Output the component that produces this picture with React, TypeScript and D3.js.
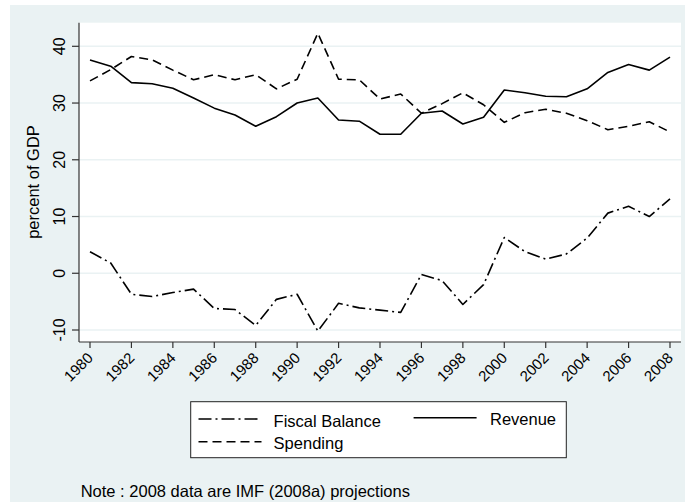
import * as d3 from "d3";

// values (percent of GDP)
const years = [1980, 1981, 1982, 1983, 1984, 1985, 1986, 1987, 1988, 1989, 1990, 1991, 1992, 1993, 1994,
  1995, 1996, 1997, 1998, 1999, 2000, 2001, 2002, 2003, 2004, 2005, 2006, 2007, 2008];
const revenue = [37.6, 36.5, 33.6, 33.4, 32.6, 30.9, 29.1, 27.9, 25.9, 27.6, 30.0, 30.9, 27.0, 26.8, 24.5,
  24.5, 28.2, 28.6, 26.3, 27.5, 32.3, 31.8, 31.2, 31.1, 32.5, 35.4, 36.8, 35.8, 38.1];
const spending = [33.9, 35.9, 38.2, 37.6, 35.8, 34.1, 35.0, 34.1, 35.0, 32.5, 34.2, 42.3, 34.2, 34.1, 30.7,
  31.6, 28.2, 29.9, 31.8, 29.7, 26.6, 28.3, 28.9, 28.2, 26.9, 25.3, 25.9, 26.7, 24.9];
const fiscalBalance = [3.8, 1.8, -3.7, -4.1, -3.4, -2.8, -6.2, -6.4, -9.2, -4.6, -3.7, -10.2, -5.3, -6.1, -6.5,
  -6.9, -0.2, -1.3, -5.5, -2.0, 6.3, 3.8, 2.5, 3.4, 6.2, 10.6, 11.8, 10.0, 13.1];

const yTicks = [-10, 0, 10, 20, 30, 40];
const xTicks = [1980, 1982, 1984, 1986, 1988, 1990, 1992, 1994, 1996, 1998, 2000, 2002, 2004, 2006, 2008];

const W = 685;
const H = 502;
const font = "'Liberation Sans', Arial, sans-serif";
const bg = "#eaf2f3";

const DASH = "9 5";
const DASH_DOT = "13 4 2 4";

export default function App() {
  const plot = { left: 79, right: 681, top: 22.7, bottom: 342 };

  const x = d3.scaleLinear().domain([1980, 2008]).range([90, 670]);
  const y = d3.scaleLinear().domain([-10, 40]).range([330, 46.3]);

  const line = d3.line<number>()
    .x((_, i) => x(years[i]))
    .y(d => y(d));

  const series = [
    { name: "Fiscal Balance", values: fiscalBalance, dash: DASH_DOT },
    { name: "Revenue", values: revenue, dash: null },
    { name: "Spending", values: spending, dash: DASH },
  ];

  // legend entries: key start x, key y, text x, baseline
  const legend = [
    { s: series[0], kx: 198.5, ky: 419, tx: 273.6, ty: 426.5 },
    { s: series[1], kx: 413.6, ky: 417.7, tx: 490, ty: 425 },
    { s: series[2], kx: 198.5, ky: 441.7, tx: 273.6, ty: 448.5 },
  ];

  return (
    <svg width={W} height={H} style={{ position: "absolute", left: 0, top: 0 }}>
      <rect x={0} y={0} width={W} height={H} fill="#fff" />
      <rect x={10} y={5} width={W - 10} height={H - 5} fill={bg} />
      <rect x={plot.left} y={plot.top} width={plot.right - plot.left} height={plot.bottom - plot.top} fill="#fff" />

      {yTicks.map(t => (
        <line key={"g" + t} x1={plot.left} x2={plot.right} y1={y(t)} y2={y(t)} stroke={bg} strokeWidth={1.5} />
      ))}

      {/* axes */}
      <line x1={plot.left} x2={plot.left} y1={plot.top} y2={plot.bottom} stroke="#333" strokeWidth={1.2} />
      <line x1={plot.left} x2={plot.right} y1={plot.bottom} y2={plot.bottom} stroke="#333" strokeWidth={1.2} />

      {yTicks.map(t => (
        <g key={"y" + t}>
          <line x1={plot.left - 7} x2={plot.left} y1={y(t)} y2={y(t)} stroke="#333" strokeWidth={1.2} />
          <text transform={`translate(65,${y(t)}) rotate(-90)`} textAnchor="middle"
            fontFamily={font} fontSize={16}>{t}</text>
        </g>
      ))}
      {xTicks.map(t => (
        <g key={"x" + t}>
          <line x1={x(t)} x2={x(t)} y1={plot.bottom} y2={plot.bottom + 6} stroke="#333" strokeWidth={1.2} />
          <text transform={`translate(${x(t)},355) rotate(-45)`} textAnchor="end" dominantBaseline="central"
            fontFamily={font} fontSize={15}>{t}</text>
        </g>
      ))}

      <text transform={`translate(38.5,182) rotate(-90)`} textAnchor="middle" fontFamily={font} fontSize={16.5}>
        percent of GDP
      </text>

      {series.map(s => (
        <path key={s.name} d={line(s.values) ?? ""} fill="none" stroke="#000" strokeWidth={1.6}
          strokeDasharray={s.dash ?? undefined} strokeLinejoin="round" />
      ))}

      {/* legend */}
      <rect x={190.7} y={401.7} width={375.6} height={56} fill="#fff" stroke="#222" strokeWidth={1} />
      {legend.map(l => (
        <g key={l.s.name}>
          <line x1={l.kx} x2={l.kx + 63} y1={l.ky} y2={l.ky} stroke="#000" strokeWidth={1.6}
            strokeDasharray={l.s.dash ?? undefined} />
          <text x={l.tx} y={l.ty} fontFamily={font} fontSize={16.5}>{l.s.name}</text>
        </g>
      ))}

      <text x={80.7} y={497} fontFamily={font} fontSize={16.5}>Note : 2008 data are IMF (2008a) projections</text>
    </svg>
  );
}
